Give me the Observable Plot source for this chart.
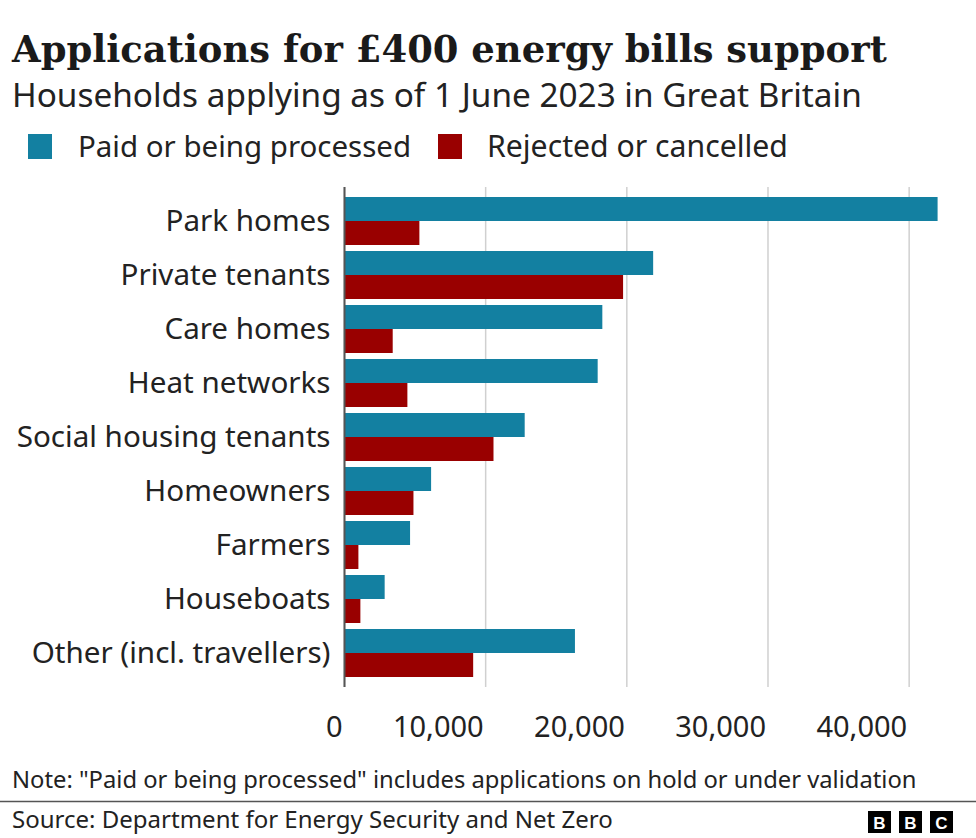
<!DOCTYPE html>
<html>
<head>
<meta charset="utf-8">
<script src="https://cdn.jsdelivr.net/npm/d3@7"></script>
<script src="https://cdn.jsdelivr.net/npm/@observablehq/plot@0.6"></script>
<style>
  html, body { margin: 0; padding: 0; background: #fff; }
  #page { position: relative; width: 976px; height: 838px; overflow: hidden; background: #fff; }
  #page svg { position: absolute; left: 0; }
</style>
</head>
<body>
<div id="page"></div>
<script>
const categories = ["Park homes", "Private tenants", "Care homes", "Heat networks", "Social housing tenants", "Homeowners", "Farmers", "Houseboats", "Other (incl. travellers)"];
const paid = [42050, 21900, 18300, 17970, 12800, 6170, 4680, 2880, 16360];
const rejected = [5340, 19770, 3450, 4490, 10590, 4920, 1020, 1160, 9150];
const xTicks = [0, 10000, 20000, 30000, 40000];
const seriesNames = ["Paid or being processed", "Rejected or cancelled"];
const seriesColors = ["#1380A1", "#990000"];

const titleText = "Applications for £400 energy bills support";
const subtitleText = "Households applying as of 1 June 2023 in Great Britain";
const noteText = "Note: \"Paid or being processed\" includes applications on hold or under validation";
const sourceText = "Source: Department for Energy Security and Net Zero";

const SANS = "'Noto Sans', 'Open Sans', sans-serif";
const SERIF = "'DejaVu Serif', 'Liberation Serif', serif";

const page = d3.select("#page");

function fit(sel, target) {
  const node = sel.node();
  const w = node.getComputedTextLength();
  const fs = parseFloat(sel.attr("font-size"));
  sel.attr("font-size", (fs * target / w).toFixed(2));
}

// Header
const header = page.append("svg").attr("width", 976).attr("height", 180).style("top", "0px");
const t = header.append("text").attr("x", 12).attr("y", 62).attr("font-family", SERIF).attr("font-weight", 700)
  .attr("font-size", 36).attr("fill", "#1a1a1a").text(titleText);
const st = header.append("text").attr("x", 12).attr("y", 107).attr("font-family", SANS)
  .attr("font-size", 28).attr("fill", "#222").text(subtitleText);
const legendX = [[28, 78], [438, 487]];
const legendTargets = [333, 301];
seriesNames.forEach((name, i) => {
  header.append("rect").attr("x", legendX[i][0]).attr("y", 134).attr("width", 24).attr("height", 25).attr("fill", seriesColors[i]);
  const lt = header.append("text").attr("x", legendX[i][1]).attr("y", 157).attr("font-family", SANS)
    .attr("font-size", 28).attr("fill", "#222").text(name);
  fit(lt, legendTargets[i]);
});

// Chart
const data = categories.map((c, i) => ({category: c, paid: paid[i], rejected: rejected[i]}));
const chart = Plot.plot({
  width: 976,
  height: 575,
  marginLeft: 344,
  marginRight: 25,
  marginTop: 7,
  marginBottom: 68,
  style: {fontFamily: SANS, fontSize: "30px", color: "#222", background: "transparent", overflow: "visible"},
  x: {domain: [0, 43000]},
  y: {domain: categories, paddingInner: 0.119, paddingOuter: 0.147},
  marks: [
    Plot.gridX(xTicks, {stroke: "#d0d0d0", strokeOpacity: 1, strokeWidth: 1.5}),
    Plot.barX(data, {x: "paid", y: "category", fill: seriesColors[0], insetBottom: 24}),
    Plot.barX(data, {x: "rejected", y: "category", fill: seriesColors[1], insetTop: 24}),
    Plot.ruleX([0], {stroke: "#555", strokeWidth: 2}),
    Plot.axisX(xTicks, {tickSize: 0, tickPadding: 29, textAnchor: "end", dx: -2, tickFormat: d3.format(","), fontSize: 29, label: null, fill: "#222"}),
    Plot.axisY({tickSize: 0, tickPadding: 14, fontSize: 29.6, label: null, fill: "#222"})
  ]
});
chart.style.top = "180px";
chart.style.position = "absolute";
page.node().appendChild(chart);

// Footer
const footer = page.append("svg").attr("width", 976).attr("height", 83).style("top", "755px");
const nt = footer.append("text").attr("x", 12).attr("y", 788 - 755).attr("font-family", SANS)
  .attr("font-size", 21).attr("fill", "#222").text(noteText);
footer.append("line").attr("x1", 0).attr("x2", 976).attr("y1", 801.5 - 755).attr("y2", 801.5 - 755)
  .attr("stroke", "#555").attr("stroke-width", 1.5);
const so = footer.append("text").attr("x", 12).attr("y", 828 - 755).attr("font-family", SANS)
  .attr("font-size", 21).attr("fill", "#222").text(sourceText);
["B", "B", "C"].forEach((l, i) => {
  const x = 868 + i * 31;
  footer.append("rect").attr("x", x).attr("y", 811 - 755).attr("width", 23).attr("height", 22).attr("fill", "#000");
  footer.append("text").attr("x", x + 11.5).attr("y", 829 - 755).attr("text-anchor", "middle")
    .attr("font-family", "'Liberation Sans', Arial, sans-serif").attr("font-weight", 700).attr("font-size", 17)
    .attr("fill", "#fff").text(l);
});

fit(t, 875);
fit(st, 850);
fit(nt, 905);
fit(so, 601);
</script>
</body>
</html>
